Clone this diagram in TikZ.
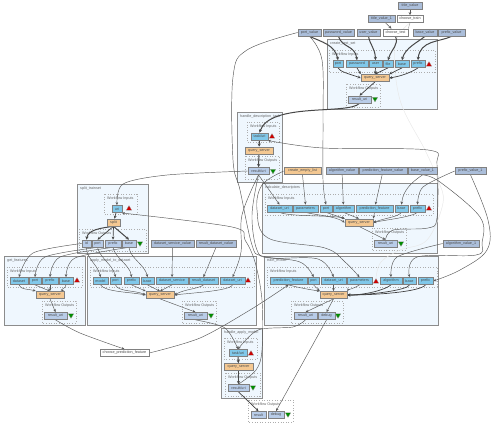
\documentclass[tikz,border=0pt]{standalone}
\usepackage{fontspec}
\setmainfont{Liberation Sans}
\usetikzlibrary{arrows.meta}
\pgfdeclarelayer{bg}
\pgfdeclarelayer{edges}
\pgfsetlayers{bg,edges,main}
\definecolor{inblue}{HTML}{80C8EA}
\definecolor{outblue}{HTML}{B8CCE8}
\definecolor{valblue}{HTML}{ABBEDA}
\definecolor{orangeq}{HTML}{F4C892}
\definecolor{clfill}{HTML}{EFF7FE}
\definecolor{edgec}{HTML}{585858}
\tikzset{
  every node/.style={font=\fontsize{3.7}{4}\selectfont, text=black!70, inner sep=0pt},
  box/.style={draw=black!50, line width=.55pt, minimum height=7.2pt, align=center},
  inbox/.style={box, fill=inblue},
  outbox/.style={box, fill=outblue},
  valbox/.style={box, fill=valblue},
  qbox/.style={box, fill=orangeq},
  plainbox/.style={box, fill=white},
  cluster/.style={draw=black!45, line width=.8pt, fill=clfill},
  dashbox/.style={draw=black!32, line width=.55pt, dash pattern=on .9pt off 1.7pt},
  lab/.style={anchor=west, text=black!60},
  e/.style={draw=edgec, line width=.45pt, -{Stealth[length=3pt,width=2.6pt]}},
  et/.style={draw=black!72, line width=1pt, -{Stealth[length=3.2pt,width=3.2pt]}},
  em/.style={draw=black!75, line width=.7pt, -{Stealth[length=3pt,width=2.8pt]}},
  faint/.style={draw=black!9, line width=.45pt},
  redtri/.style={fill=red!80!black, draw=black!40, line width=.25pt},
  greentri/.style={fill=green!55!black, draw=black!40, line width=.25pt},
}
\newcommand\Bx[6]{\node[#1,minimum width={(#4-#3)*1pt}] (#2) at ({(#3+#4)/2},#5) {#6};}
\newcommand\UT[2]{\path[redtri] (#1-2.7,#2+2.2) -- (#1+2.7,#2+2.2) -- (#1,#2-2.4) -- cycle;}
\newcommand\DT[2]{\path[greentri] (#1-2.7,#2-2.2) -- (#1+2.7,#2-2.2) -- (#1,#2+2.4) -- cycle;}
% name, x1,y1,x2,y2,label
\newcommand\Cl[6]{\path[cluster] (#2,#3) rectangle (#4,#5); \node[lab] (#1) at (#2+3,#3+5) {#6};}
\newcommand\Ds[6]{\path[dashbox] (#2,#3) rectangle (#4,#5); \node[lab] (#1) at (#2+3,#3+4.5) {#6};}
\begin{document}
\begin{tikzpicture}[x=1pt,y=-1pt]
\useasboundingbox (0,0) rectangle (500,429);
\begin{pgfonlayer}{bg}
\fill[white] (0,0) rectangle (500,429);
\Cl{lct}{327}{39}{437}{109}{create\_test\_set}
\Ds{lcti}{329}{50}{435}{72}{Workflow Inputs}
\Ds{lcto}{346}{84}{380}{107}{Workflow Outputs}
\Cl{lht}{237}{112}{282}{182}{handle\_description\_task}
\Ds{lhti}{247}{122}{279}{142}{Workflow Inputs}
\Ds{lhto}{245}{156}{279}{179}{Workflow Outputs}
\Cl{lca}{262}{183}{437}{253}{calculate\_descriptors}
\Ds{lcai}{265}{194}{433}{215}{Workflow Inputs}
\Ds{lcao}{372}{228}{406}{250}{Workflow Outputs}
\Cl{ltr}{264}{256}{438}{325}{train\_model}
\Ds{ltri}{267}{267}{437}{287}{Workflow Inputs}
\Ds{ltro}{291}{301}{343}{323}{Workflow Outputs}
\Cl{lsp}{77}{184}{148}{253}{split\_trainset}
\Ds{lspi}{104}{194}{137}{214}{Workflow Inputs}
\Ds{lspo}{79}{229}{146}{251}{Workflow Outputs}
\Cl{lgf}{4}{256}{85}{325}{get\_features}
\Ds{lgfi}{7}{267}{82}{287}{Workflow Inputs}
\Ds{lgfo}{42}{301}{76}{323}{Workflow Outputs}
\Cl{lam}{87}{256}{256}{325}{apply\_model\_to\_dataset}
\Ds{lami}{90}{267}{254}{287}{Workflow Inputs}
\Ds{lamo}{182}{301}{216}{323}{Workflow Outputs}
\Cl{lha}{221}{328}{262}{398}{handle\_apply\_model}
\Ds{lhai}{224}{338}{257}{359}{Workflow Inputs}
\Ds{lhao}{225}{373}{260}{396}{Workflow Outputs}
\Ds{lfin}{248}{400}{293}{422}{Workflow Outputs}
\end{pgfonlayer}
% top-level values
\Bx{valbox}{vtitle}{398}{422}{5.5}{title\_value}
\Bx{valbox}{vtitlea}{368}{395}{19}{title\_value\_1}
\Bx{plainbox}{chtrain}{397}{423}{19}{choose\_train}
\Bx{plainbox}{chtest}{383}{408}{32.5}{choose\_test}
\Bx{valbox}{vport}{298}{321}{32.5}{port\_value}
\Bx{valbox}{vpass}{323}{354}{32.5}{password\_value}
\Bx{valbox}{vuser}{357}{380}{32.5}{user\_value}
\Bx{valbox}{vbase}{413}{437}{32.5}{base\_value}
\Bx{valbox}{vprefix}{438}{465}{32.5}{prefix\_value}
% create_test_set
\Bx{inbox}{ctport}{333}{343}{64}{port}
\Bx{inbox}{ctpass}{346}{368}{64}{password}
\Bx{inbox}{ctuser}{369}{382}{64}{user}
\Bx{inbox}{ctfile}{383}{393}{64}{file}
\Bx{inbox}{ctbase}{395}{409}{64}{base}
\Bx{inbox}{ctprefix}{411}{425}{64}{prefix}
\UT{429}{64}
\Bx{qbox}{ctq}{361}{389}{78}{query\_server}
\Bx{outbox}{ctres}{348}{371}{99.5}{result\_uri}
\DT{375}{99.5}
% handle_description_task
\Bx{inbox}{httask}{251}{268}{136.5}{task/uri}
\UT{272}{136}
\Bx{qbox}{htq}{245}{273}{150.5}{query\_server}
\Bx{outbox}{htres}{248}{269}{171}{result/uri}
\DT{273}{171.5}
% values row 2
\Bx{qbox}{vempty}{284}{321}{171}{create\_empty\_list}
\Bx{valbox}{valg}{326}{358}{171}{algorithm\_value}
\Bx{valbox}{vpred}{359}{407}{171}{prediction\_feature\_value}
\Bx{valbox}{vbasea}{408}{437}{171}{base\_value\_1}
\Bx{valbox}{vprefixa}{455}{486}{171}{prefix\_value\_1}
\Bx{valbox}{valga}{443}{479}{243.5}{algorithm\_value\_1}
% calculate_descriptors
\Bx{inbox}{cads}{267}{292}{208.5}{dataset\_uri}
\Bx{inbox}{capar}{293}{318}{208.5}{parameters}
\Bx{inbox}{caport}{320}{332}{208.5}{port}
\Bx{inbox}{caalg}{333}{354}{208.5}{algorithm}
\Bx{inbox}{capred}{356}{393}{208.5}{prediction\_feature}
\Bx{inbox}{cabase}{395}{408}{208.5}{base}
\Bx{inbox}{caprefix}{410}{425}{208.5}{prefix}
\UT{429}{208}
\Bx{qbox}{caq}{345}{373}{222.5}{query\_server}
\Bx{outbox}{cares}{374}{397}{243.5}{result\_uri}
\DT{401}{244}
% train_model
\Bx{inbox}{trpred}{270}{307}{281}{prediction\_feature}
\Bx{inbox}{trport}{308}{319}{281}{port}
\Bx{inbox}{trds}{321}{346}{281}{dataset\_uri}
\Bx{inbox}{trpar}{347}{372}{281}{parameters}
\UT{376}{281}
\Bx{inbox}{tralg}{380}{402}{281}{algorithm}
\Bx{inbox}{trbase}{403}{416}{281}{base}
\Bx{inbox}{trprefix}{418}{433}{281}{prefix}
\Bx{qbox}{trq}{320}{347}{295}{query\_server}
\Bx{outbox}{trres}{294}{317}{316}{result\_uri}
\Bx{outbox}{trdebug}{318}{335}{316}{debug}
\DT{338}{316}
% split_trainset
\Bx{inbox}{spuri}{112}{122}{209}{uri}
\UT{129}{208}
\Bx{qbox}{spq}{107}{120}{222.5}{split}
\Bx{outbox}{spid}{82}{91}{243.5}{id}
\Bx{outbox}{spport}{92}{103}{243.5}{port}
\Bx{outbox}{spprefix}{105}{121}{243.5}{prefix}
\Bx{outbox}{spbase}{122}{136}{243.5}{base}
\DT{140}{244}
\Bx{valbox}{vdss}{151}{194}{243.5}{dataset\_service\_value}
\Bx{valbox}{vrds}{196}{236}{243.5}{result\_dataset\_value}
% get_features
\Bx{inbox}{gfds}{10}{28}{281}{dataset}
\Bx{inbox}{gfport}{29}{41}{281}{port}
\Bx{inbox}{gfprefix}{42}{58}{281}{prefix}
\Bx{inbox}{gfbase}{59}{73}{281}{base}
\UT{77}{280}
\Bx{qbox}{gfq}{36}{64}{295}{query\_server}
\Bx{outbox}{gfres}{44}{67}{316}{result\_uri}
\DT{71}{316}
% apply_model_to_dataset
\Bx{inbox}{ammodel}{93}{108}{281}{model}
\Bx{inbox}{amport}{110}{121}{281}{port}
\Bx{inbox}{amprefix}{124}{139}{281}{prefix}
\Bx{inbox}{ambase}{141}{154}{281}{base}
\Bx{inbox}{amdss}{156}{188}{281}{dataset\_service}
\Bx{inbox}{amrds}{189}{218}{281}{result\_dataset}
\Bx{inbox}{amds}{220}{245}{281}{dataset\_uri}
\UT{248}{280}
\Bx{qbox}{amq}{146}{174}{295}{query\_server}
\Bx{outbox}{amres}{184}{207}{316}{result\_uri}
\DT{211}{316}
% choose_prediction_feature
\Bx{plainbox}{chpred}{100}{149}{353}{choose\_prediction\_feature}
% handle_apply_model
\Bx{inbox}{hatask}{229}{247}{353}{task/uri}
\UT{251}{353}
\Bx{qbox}{haq}{224}{253}{367}{query\_server}
\Bx{outbox}{hares}{228}{249}{388}{result/uri}
\DT{253}{388}
% final
\Bx{outbox}{finres}{251}{266}{415}{result}
\Bx{outbox}{findebug}{268}{284}{415}{debug}
\DT{288}{415}
\begin{pgfonlayer}{edges}
\path[e] (vtitle) -- (chtrain);
\path[e] (vtitlea) -- (chtest);
\path[faint] plot[smooth,tension=.6] coordinates {(chtrain.south) (395,45) (400,100) (425,150) (438,180) (443,203) (427,240) (400,250) (381,262) (376,278)};
\path[draw=black!35,line width=.45pt] (chtrain.south) -- (chtest.north east);
\path[et] (chtest.south) .. controls (399,45) and (392,48) .. (ctfile.north);
\path[et] (vport.south) .. controls (322,42) and (335,45) .. (ctport.north);
\path[et] (vpass.south) .. controls (342,48) and (355,45) .. (ctpass.north);
\path[et] (vuser.south) .. controls (370,45) and (375,48) .. (ctuser.north);
\path[et] (vbase.south) .. controls (418,42) and (405,48) .. (ctbase.north);
\path[et] (vprefix.south) .. controls (440,42) and (420,40) .. (ctprefix.north);
\path[em] (ctport.south) .. controls (340,72) and (350,74) .. (ctq.west);
\path[em] (ctpass.south) -- (ctq.north west);
\path[em] (ctuser.south) -- (ctq.north);
\path[em] (ctfile.south) -- (ctq.north);
\path[em] (ctbase.south) -- (ctq.north east);
\path[em] (ctprefix.south) .. controls (412,72) and (402,76) .. (ctq.east);
\path[em] (ctq.south) -- (ctres.north);
\path[et] (ctres.south) .. controls (348,115) and (270,102) .. (httask.north);
\path[et] (httask) -- (htq);
\path[et] (htq) -- (htres);
\path[e] plot[smooth,tension=.55] coordinates {(cares.north) (393,230) (428,228) (437,218) (437,165) (428,150) (323,148) (268,140.5)};
\path[e] plot[smooth,tension=.6] coordinates {(vport.west) (247,50) (233,77) (233,160) (240,190) (252,245) (262,256) (300,262) (trport.north)};
\path[e] plot[smooth,tension=.6] coordinates {(vport.south) (322,60) (323,120) (323,180) (caport.north)};
\path[e] (htres.south) -- (cads.north);
\path[e] plot[smooth,tension=.6] coordinates {(htres.south) (252,215) (257,250) (270,258) (318,259) (trds.north)};
\path[e] plot[smooth,tension=.6] coordinates {(htres.south) (242,215) (241,252) (amds.north)};
\path[e] plot[smooth,tension=.5] coordinates {(htres.west) (167,175) (123,184) (spuri.north)};
\path[e] (vempty.south) -- (capar.north);
\path[e] plot[smooth,tension=.6] coordinates {(vempty.west) (262,185) (257,210) (268,238) (325,248) (345,262) (trpar.north)};
\path[e] plot[smooth,tension=.5] coordinates {(chpred.east) (200,338) (250,310) (trpred.south)};
\path[e] plot[smooth,tension=.5] coordinates {(gfres.south) (80,333) (chpred.north)};
\path[e] plot[smooth,tension=.5] coordinates {(amres.south) (225,328) (hatask.north)};
\path[e] plot[smooth,tension=.5] coordinates {(trres.south) (293,327) (258,330) (hatask.north)};
\path[em] (hares.south) -- (finres.north);
\path[e] (trdebug.south) -- (findebug.north);
\path[et] (hatask) -- (haq);
\path[et] (haq) -- (hares);
\path[e] plot[smooth,tension=.55] coordinates {(hares.north) (256,370) (262,350) (262,300) (255,262) (245,240) (232,227) (122,213)};
% split
\path[em] (spuri) -- (spq);
\path[et] (spq.south) .. controls (100,228) and (88,230) .. (spid.north);
\path[em] (spq.south) -- (spport.north);
\path[em] (spq.south) -- (spprefix.north);
\path[et] (spq.south) -- (spbase.north);
\path[e] plot[smooth,tension=.5] coordinates {(spid.west) (33,253) (gfds.north)};
\path[e] (spid.south) .. controls (86,258) and (98,265) .. (ammodel.north);
\path[e] plot[smooth,tension=.5] coordinates {(spport.south) (45,257) (gfport.north)};
\path[e] (spport.south) .. controls (100,258) and (113,265) .. (amport.north);
\path[e] plot[smooth,tension=.5] coordinates {(spprefix.south) (60,257) (gfprefix.north)};
\path[e] (spprefix.south) .. controls (115,258) and (130,265) .. (amprefix.north);
\path[e] plot[smooth,tension=.5] coordinates {(spbase.south) (75,258) (gfbase.north)};
\path[e] (spbase.south) .. controls (130,258) and (145,265) .. (ambase.north);
\path[e] (vdss) -- (amdss);
\path[e] (vrds.south) -- (amrds.north);
% get_features query
\path[e] (gfds.south) .. controls (20,290) and (30,289) .. (gfq.north west);
\path[e] (gfport.south) -- (gfq.north);
\path[e] (gfprefix.south) -- (gfq.north);
\path[e] (gfbase.south) .. controls (66,289) and (58,290) .. (gfq.north east);
\path[e] (gfq.south) -- (gfres.north);
% apply_model query
\path[e] (ammodel.south) .. controls (105,292) and (130,292) .. (amq.west);
\path[e] (amport.south) .. controls (118,292) and (135,290) .. (amq.west);
\path[e] (amprefix.south) -- (amq.north west);
\path[e] (ambase.south) -- (amq.north);
\path[e] (amdss.south) -- (amq.north);
\path[e] (amrds.south) .. controls (198,289) and (185,289) .. (amq.east);
\path[e] (amds.south) .. controls (230,291) and (190,293) .. (amq.east);
\path[e] (amq.south) -- (amres.north);
% calculate query
\path[e] (valg) -- (caalg);
\path[e] (vpred) -- (capred);
\path[e] (vbasea.south) .. controls (412,182) and (403,190) .. (cabase.north);
\path[e] plot[smooth,tension=.5] coordinates {(vprefixa.west) (423,187) (caprefix.north)};
\path[e] (cads.south) .. controls (290,217) and (335,215) .. (caq.north west);
\path[e] (capar.south) .. controls (315,215) and (335,216) .. (caq.west);
\path[e] (caport.south) -- (caq.north west);
\path[e] (caalg.south) -- (caq.north);
\path[e] (capred.south) -- (caq.north east);
\path[e] (cabase.south) .. controls (398,217) and (385,218) .. (caq.east);
\path[e] (caprefix.south) .. controls (412,217) and (385,220) .. (caq.east);
\path[e] (caq.south) -- (cares.north);
% train query
\path[e] plot[smooth,tension=.6] coordinates {(vbasea.south) (440,182) (480,217) (482,243) (476,255) (417,257) (trbase.north)};
\path[e] plot[smooth,tension=.6] coordinates {(vprefixa.south) (488,220) (487,250) (460,270) (trprefix.east)};
\path[e] plot[smooth,tension=.5] coordinates {(valga.west) (397,257) (tralg.north)};
\path[e] (trpred.south) .. controls (300,288) and (312,290) .. (trq.north west);
\path[e] (trport.south) -- (trq.north west);
\path[e] (trds.south) -- (trq.north);
\path[e] (trpar.south) .. controls (355,288) and (348,290) .. (trq.north east);
\path[em] (tralg.south) .. controls (385,290) and (365,295) .. (trq.east);
\path[em] (trbase.south) .. controls (408,290) and (370,295) .. (trq.east);
\path[em] (trprefix.south) .. controls (420,292) and (375,295) .. (trq.east);
\path[e] (trq.south) -- (trres.north);
\path[e] (trq.south) -- (trdebug.north);
\end{pgfonlayer}
\end{tikzpicture}
\end{document}
